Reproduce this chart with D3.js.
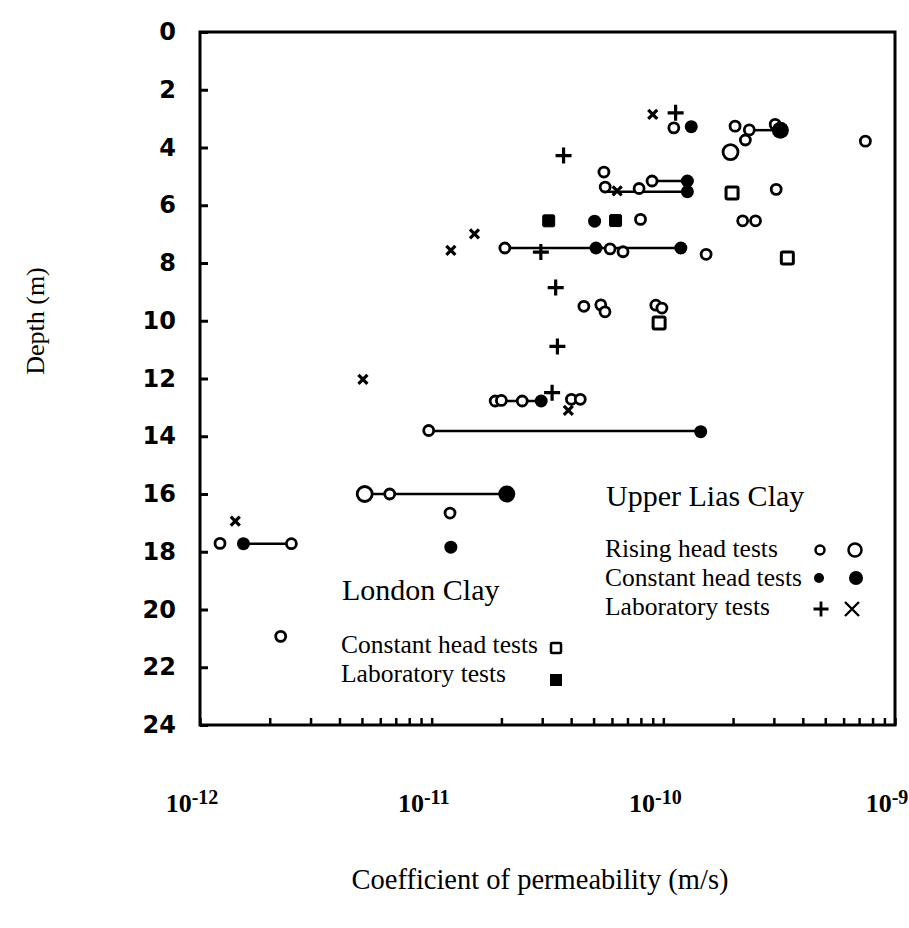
<!DOCTYPE html>
<html>
<head>
<meta charset="utf-8">
<script src="https://cdn.jsdelivr.net/npm/d3@7"></script>
<style>
  body { margin: 0; background: #fff; }
  svg { display: block; }
</style>
</head>
<body>
<svg id="chart" width="909" height="928"></svg>
<script>
// ---- Depth axis (m) and permeability decades (m/s) ----
const depthLabels = [0, 2, 4, 6, 8, 10, 12, 14, 16, 18, 20, 22, 24];
const decadeExponents = [-12, -11, -10, -9];
const tickMantissas = [1, 2, 3, 4, 5, 6, 7, 8, 9];

// ---- Measurements: [coefficient of permeability (m/s), depth (m)] ----
// Upper Lias Clay: rising head tests (small / large symbols)
const risingSmall = [
  [1.11e-10, 3.32], [2.04e-10, 3.26], [2.35e-10, 3.39], [2.26e-10, 3.74],
  [3.04e-10, 3.20], [7.45e-10, 3.78], [5.54e-11, 4.85], [5.61e-11, 5.37],
  [7.86e-11, 5.42], [8.94e-11, 5.16], [3.07e-10, 5.45], [2.20e-10, 6.54],
  [2.50e-10, 6.54], [7.97e-11, 6.49], [1.53e-10, 7.70], [5.89e-11, 7.51],
  [6.70e-11, 7.61], [2.07e-11, 7.48], [4.54e-11, 9.50], [5.37e-11, 9.45],
  [5.60e-11, 9.69], [9.28e-11, 9.46], [9.86e-11, 9.56], [1.88e-11, 12.78],
  [2.00e-11, 12.76], [2.46e-11, 12.78], [4.01e-11, 12.72], [4.38e-11, 12.72],
  [9.71e-12, 13.80], [6.59e-12, 16.00], [1.20e-11, 16.66], [1.22e-12, 17.71],
  [2.48e-12, 17.72], [2.23e-12, 20.93]
];
const risingLarge = [
  [1.95e-10, 4.16], [5.14e-12, 16.00]
];
// Upper Lias Clay: constant head tests
const constantSmall = [
  [1.32e-10, 3.28], [1.27e-10, 5.16], [1.27e-10, 5.53], [5.05e-11, 6.55],
  [5.12e-11, 7.48], [1.19e-10, 7.48], [2.97e-11, 12.78], [1.45e-10, 13.84],
  [1.21e-11, 17.84], [1.54e-12, 17.72]
];
const constantLarge = [
  [3.20e-10, 3.40], [2.11e-11, 16.00]
];
// Upper Lias Clay: laboratory tests
const labPlus = [
  [1.13e-10, 2.80], [3.71e-11, 4.28], [2.96e-11, 7.62], [3.43e-11, 8.85],
  [3.49e-11, 10.89], [3.31e-11, 12.49]
];
const labCross = [
  [9.0e-11, 2.85], [6.32e-11, 5.50], [1.53e-11, 6.99], [1.21e-11, 7.56],
  [5.05e-12, 12.03], [3.89e-11, 13.10], [1.42e-12, 16.94]
];
// London Clay
const londonConstant = [
  [1.98e-10, 5.58], [3.43e-10, 7.83], [9.59e-11, 10.08]
];
const londonLab = [
  [3.20e-11, 6.54], [6.22e-11, 6.53]
];
// Ranges joining tests at the same depth: [depth, low k, high k]
const ranges = [
  [3.40, 2.35e-10, 3.20e-10],
  [5.16, 8.94e-11, 1.27e-10],
  [5.53, 5.61e-11, 1.27e-10],
  [7.48, 2.07e-11, 1.19e-10],
  [12.78, 1.88e-11, 2.97e-11],
  [13.82, 9.71e-12, 1.45e-10],
  [16.00, 5.14e-12, 2.11e-11],
  [17.72, 1.54e-12, 2.48e-12]
];

// ---- Layout ----
const frame = { left: 200, right: 895, top: 32, bottom: 725 };
const svg = d3.select("#chart");
svg.append("rect").attr("width", 909).attr("height", 928).attr("fill", "#fff");

const x = d3.scaleLog().domain([1e-12, 1e-9]).range([frame.left, frame.right]);
const y = d3.scaleLinear().domain([0, 24]).range([frame.top, frame.bottom]);

const serif = "'Liberation Serif', 'Times New Roman', serif";

// Plot frame
svg.append("rect")
  .attr("x", frame.left).attr("y", frame.top)
  .attr("width", frame.right - frame.left).attr("height", frame.bottom - frame.top)
  .attr("fill", "none").attr("stroke", "#000").attr("stroke-width", 3);

// Depth axis with inward ticks
svg.append("g")
  .attr("transform", `translate(${frame.left},0)`)
  .call(d3.axisLeft(y).tickValues(depthLabels).tickSize(-8).tickPadding(24).tickFormat(d3.format("d")))
  .call(g => g.select(".domain").remove())
  .call(g => g.selectAll(".tick line").attr("stroke", "#000").attr("stroke-width", 3))
  .call(g => g.selectAll(".tick text")
    .attr("fill", "#000")
    .attr("font-family", "'DejaVu Sans', sans-serif")
    .attr("font-weight", "bold")
    .attr("font-size", 24));

// Logarithmic permeability axis with inward ticks
const logTicks = [];
decadeExponents.slice(0, -1).forEach(e => tickMantissas.forEach(m => logTicks.push(m * Math.pow(10, e))));
logTicks.push(Math.pow(10, decadeExponents[decadeExponents.length - 1]));

svg.append("g")
  .attr("transform", `translate(0,${frame.bottom})`)
  .call(d3.axisBottom(x).tickValues(logTicks).tickSize(-7).tickFormat(""))
  .call(g => g.select(".domain").remove())
  .call(g => g.selectAll(".tick line").attr("stroke", "#000").attr("stroke-width", 2.5));

// Decade labels 10^n
const decadeLabel = svg.append("g").selectAll("text")
  .data(decadeExponents)
  .join("text")
  .attr("x", e => x(Math.pow(10, e)) - 8)
  .attr("y", frame.bottom + 87)
  .attr("text-anchor", "middle")
  .attr("font-family", serif)
  .attr("font-weight", "bold")
  .attr("fill", "#000");
decadeLabel.append("tspan").attr("font-size", 26).text("10");
decadeLabel.append("tspan").attr("font-size", 20).attr("dy", -8).text(e => `-${-e}`);

// Axis titles
svg.append("text")
  .attr("transform", `translate(44,321) rotate(-90)`)
  .attr("text-anchor", "middle")
  .attr("font-family", serif).attr("font-size", 26).attr("fill", "#000")
  .text("Depth (m)");
svg.append("text")
  .attr("x", 540).attr("y", 889)
  .attr("text-anchor", "middle")
  .attr("font-family", serif).attr("font-size", 28.5).attr("fill", "#000")
  .text("Coefficient of permeability (m/s)");

// Range lines
svg.append("g").selectAll("line")
  .data(ranges)
  .join("line")
  .attr("x1", d => x(d[1])).attr("x2", d => x(d[2]))
  .attr("y1", d => y(d[0])).attr("y2", d => y(d[0]))
  .attr("stroke", "#000").attr("stroke-width", 2.5);

const marks = svg.append("g");

// Squares (London Clay)
function squares(data, size, filled) {
  marks.append("g").selectAll("rect")
    .data(data)
    .join("rect")
    .attr("x", d => x(d[0]) - size / 2).attr("y", d => y(d[1]) - size / 2)
    .attr("width", size).attr("height", size).attr("rx", 1.5)
    .attr("fill", filled ? "#000" : "#fff")
    .attr("stroke", "#000").attr("stroke-width", filled ? 1 : 3);
}
squares(londonConstant, 12, false);
squares(londonLab, 12, true);

// Circles
function circles(data, r, filled) {
  marks.append("g").selectAll("circle")
    .data(data)
    .join("circle")
    .attr("cx", d => x(d[0])).attr("cy", d => y(d[1]))
    .attr("r", r)
    .attr("fill", filled ? "#000" : "#fff")
    .attr("stroke", "#000").attr("stroke-width", filled ? 0 : 2.8);
}
circles(risingSmall, 5, false);
circles(risingLarge, 7.5, false);
circles(constantSmall, 6.5, true);
circles(constantLarge, 8.5, true);

// Laboratory symbols
const plusPath = s => `M${-s},0H${s}M0,${-s}V${s}`;
const crossPath = s => `M${-s},${-s}L${s},${s}M${s},${-s}L${-s},${s}`;
marks.append("g").selectAll("path")
  .data(labPlus)
  .join("path")
  .attr("transform", d => `translate(${x(d[0])},${y(d[1])})`)
  .attr("d", plusPath(8))
  .attr("stroke", "#000").attr("stroke-width", 3.2).attr("fill", "none");
marks.append("g").selectAll("path")
  .data(labCross)
  .join("path")
  .attr("transform", d => `translate(${x(d[0])},${y(d[1])})`)
  .attr("d", crossPath(4.5))
  .attr("stroke", "#000").attr("stroke-width", 3.2).attr("fill", "none");

// ---- Legends ----
const legend = svg.append("g").attr("font-family", serif).attr("fill", "#000");

legend.append("text").attr("x", 606).attr("y", 506).attr("font-size", 30).text("Upper Lias Clay");
const liasRows = [
  { label: "Rising head tests", y: 557 },
  { label: "Constant head tests", y: 586 },
  { label: "Laboratory tests", y: 615 }
];
legend.selectAll("text.row")
  .data(liasRows)
  .join("text")
  .attr("class", "row")
  .attr("x", 605).attr("y", d => d.y)
  .attr("font-size", 25.5)
  .text(d => d.label);

legend.append("circle").attr("cx", 820).attr("cy", 550).attr("r", 4.5)
  .attr("fill", "#fff").attr("stroke", "#000").attr("stroke-width", 2.5);
legend.append("circle").attr("cx", 855).attr("cy", 550).attr("r", 6.5)
  .attr("fill", "#fff").attr("stroke", "#000").attr("stroke-width", 2.5);
legend.append("circle").attr("cx", 819).attr("cy", 578).attr("r", 5).attr("fill", "#000");
legend.append("circle").attr("cx", 856).attr("cy", 578).attr("r", 7).attr("fill", "#000");
legend.append("path").attr("transform", "translate(821,609)").attr("d", plusPath(7.5))
  .attr("stroke", "#000").attr("stroke-width", 2.8).attr("fill", "none");
legend.append("path").attr("transform", "translate(852,609)").attr("d", crossPath(7))
  .attr("stroke", "#000").attr("stroke-width", 2.4).attr("fill", "none");

legend.append("text").attr("x", 342).attr("y", 600).attr("font-size", 30).text("London Clay");
legend.append("text").attr("x", 341).attr("y", 653).attr("font-size", 25.5).text("Constant head tests");
legend.append("text").attr("x", 341).attr("y", 682).attr("font-size", 25.5).text("Laboratory tests");
legend.append("rect").attr("x", 551).attr("y", 643).attr("width", 10).attr("height", 10).attr("rx", 1)
  .attr("fill", "#fff").attr("stroke", "#000").attr("stroke-width", 2.5);
legend.append("rect").attr("x", 550).attr("y", 674).attr("width", 12).attr("height", 12)
  .attr("fill", "#000");
</script>
</body>
</html>
